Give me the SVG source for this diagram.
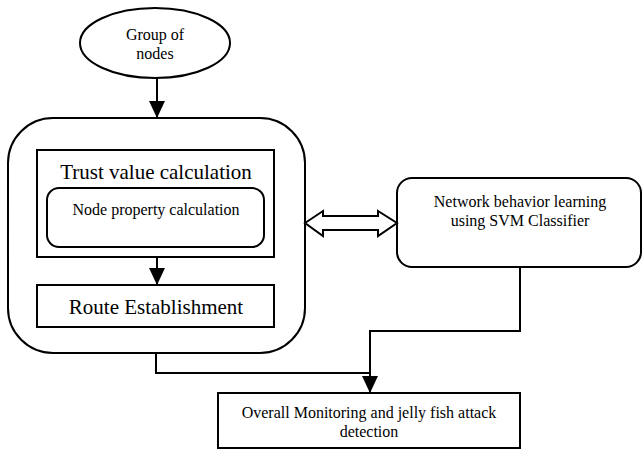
<svg xmlns="http://www.w3.org/2000/svg" width="643" height="451" viewBox="0 0 643 451">
<style>
.s{fill:#fff;stroke:#000;stroke-width:2}
.c{fill:none;stroke:#000;stroke-width:2}
.t{font-family:"Liberation Serif","Times New Roman",serif;fill:#000;text-anchor:middle}
.sm{font-size:16px}
.lg{font-size:21px}
</style>
<defs>
<marker id="ah" markerWidth="17" markerHeight="16" viewBox="0 0 17 16" refX="17" refY="8" orient="auto" markerUnits="userSpaceOnUse">
<path d="M0,0 L17,8 L0,16 Z" fill="#000"/>
</marker>
</defs>
<rect width="643" height="451" fill="#fff"/>
<g id="group-of-nodes">
<ellipse class="s" cx="155" cy="43" rx="75" ry="35"/>
<text class="t sm" x="155" y="40">Group of</text>
<text class="t sm" x="155" y="59">nodes</text>
</g>
<g id="outer-box">
<rect class="s" x="8" y="118" width="297" height="235" rx="45"/>
</g>
<g id="trust-value">
<rect class="s" x="37" y="150" width="237" height="107"/>
<text class="t lg" x="156" y="179">Trust value calculation</text>
</g>
<g id="node-property">
<rect class="s" x="47" y="188" width="217" height="59" rx="12"/>
<text class="t sm" x="156" y="215">Node property calculation</text>
</g>
<g id="route-establishment">
<rect class="s" x="37" y="285" width="237" height="42"/>
<text class="t lg" x="156" y="314">Route Establishment</text>
</g>
<g id="svm">
<rect class="s" x="397" y="178" width="244" height="89" rx="15"/>
<text class="t sm" x="520" y="207">Network behavior learning</text>
<text class="t sm" x="520" y="226">using SVM Classifier</text>
</g>
<g id="overall">
<rect class="s" x="218" y="393" width="302" height="55"/>
<text class="t sm" x="369" y="418">Overall Monitoring and jelly fish attack</text>
<text class="t sm" x="369" y="437">detection</text>
</g>
<g id="connectors">
<line class="c" x1="157" y1="78" x2="157" y2="118" marker-end="url(#ah)"/>
<line class="c" x1="157" y1="257" x2="157" y2="285" marker-end="url(#ah)"/>
<polyline class="c" points="520,267 520,331 370,331 370,393" marker-end="url(#ah)"/>
<polyline class="c" points="156,353 156,373 370,373"/>
<path class="s" d="M305,223 L323,211 L323,216 L378,216 L378,211 L397,223 L378,236 L378,230 L323,230 L323,236 Z"/>
</g>
</svg>
